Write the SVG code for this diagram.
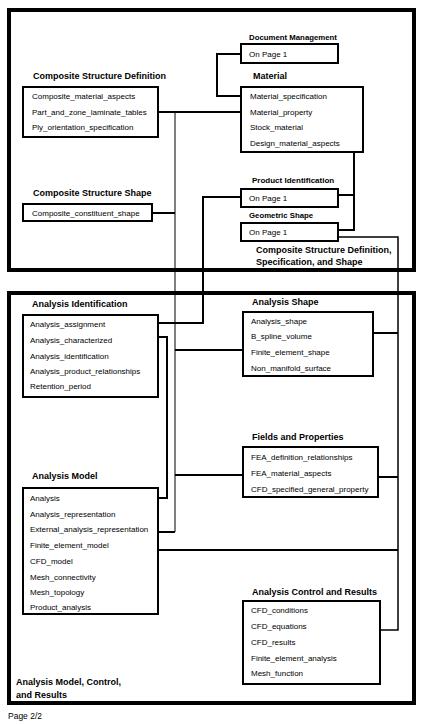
<svg xmlns="http://www.w3.org/2000/svg" width="424" height="724" viewBox="0 0 424 724">
<style>
.frame{fill:none;stroke:#000;stroke-width:4}
.box{fill:#fff;stroke:#000;stroke-width:2}
.c{fill:none;stroke:#000;stroke-width:2}
.t{fill:none;stroke:#000;stroke-width:1}
.m{fill:none;stroke:#000;stroke-width:1.5}
text{font-family:"Liberation Sans",Arial,sans-serif;fill:#000}
.i{font-size:8px}
.h{font-size:9px;font-weight:bold}
.hs{font-size:7.8px;font-weight:bold}
.hm{font-size:8px;font-weight:bold}
</style>
<rect width="424" height="724" fill="#fff"/>
<rect class="frame" x="9" y="10" width="405" height="260"/>
<rect class="frame" x="9" y="293" width="405" height="410"/>
<g id="connectors">
<path class="c" d="M241,54H217V96H241"/>
<path class="c" d="M158,112H241"/>
<path class="t" d="M175,112V532"/>
<path class="c" d="M152,213H175"/>
<path class="c" d="M354,152V230H338M338,195H354"/>
<path class="m" d="M338,237H398V630H380"/>
<path class="c" d="M241,197H203V323H158"/>
<path class="c" d="M158,337H167V498H158"/>
<path class="c" d="M175,350H243"/>
<path class="c" d="M175,475H243"/>
<path class="c" d="M158,532H175"/>
<path class="c" d="M158,550H398"/>
<path class="c" d="M373,333H398"/>
<path class="c" d="M378,477H398"/>
</g>
<g id="csd">
<text class="h" x="33" y="79">Composite Structure Definition</text>
<rect class="box" x="23" y="87" width="135" height="50"/>
<text class="i" x="32" y="99">Composite_material_aspects</text>
<text class="i" x="32" y="115">Part_and_zone_laminate_tables</text>
<text class="i" x="32" y="130">Ply_orientation_specification</text>
</g>
<g id="css">
<text class="h" x="33" y="196">Composite Structure Shape</text>
<rect class="box" x="23" y="204" width="129" height="17"/>
<text class="i" x="32" y="216">Composite_constituent_shape</text>
</g>
<g id="dm">
<text class="hs" x="249" y="40">Document Management</text>
<rect class="box" x="241" y="44" width="97" height="19"/>
<text class="i" x="249" y="57">On Page 1</text>
</g>
<g id="material">
<text class="h" x="253" y="79">Material</text>
<rect class="box" x="241" y="87" width="122" height="65"/>
<text class="i" x="250" y="99">Material_specification</text>
<text class="i" x="250" y="115">Material_property</text>
<text class="i" x="250" y="130">Stock_material</text>
<text class="i" x="250" y="146">Design_material_aspects</text>
</g>
<g id="pi">
<text class="hm" x="252" y="183">Product Identification</text>
<rect class="box" x="241" y="189" width="97" height="18"/>
<text class="i" x="249" y="201">On Page 1</text>
</g>
<g id="gs">
<text class="hs" x="249" y="218">Geometric Shape</text>
<rect class="box" x="241" y="223" width="97" height="18"/>
<text class="i" x="249" y="235">On Page 1</text>
</g>
<text class="h" x="256" y="253">Composite Structure Definition,</text>
<text class="h" x="256" y="265">Specification, and Shape</text>
<g id="ai">
<text class="h" x="32" y="307">Analysis Identification</text>
<rect class="box" x="23" y="315" width="135" height="82"/>
<text class="i" x="30" y="327">Analysis_assignment</text>
<text class="i" x="30" y="343">Analysis_characterized</text>
<text class="i" x="30" y="359">Analysis_identification</text>
<text class="i" x="30" y="374">Analysis_product_relationships</text>
<text class="i" x="30" y="389">Retention_period</text>
</g>
<g id="as">
<text class="h" x="252" y="305">Analysis Shape</text>
<rect class="box" x="243" y="312" width="130" height="64"/>
<text class="i" x="251" y="324">Analysis_shape</text>
<text class="i" x="251" y="339">B_spline_volume</text>
<text class="i" x="251" y="355">Finite_element_shape</text>
<text class="i" x="251" y="371">Non_manifold_surface</text>
</g>
<g id="fp">
<text class="h" x="252" y="440">Fields and Properties</text>
<rect class="box" x="243" y="447" width="135" height="50"/>
<text class="i" x="251" y="460">FEA_definition_relationships</text>
<text class="i" x="251" y="476">FEA_material_aspects</text>
<text class="i" x="251" y="492">CFD_specified_general_property</text>
</g>
<g id="am">
<text class="h" x="32" y="479">Analysis Model</text>
<rect class="box" x="23" y="488" width="135" height="126"/>
<text class="i" x="30" y="501">Analysis</text>
<text class="i" x="30" y="517">Analysis_representation</text>
<text class="i" x="30" y="532">External_analysis_representation</text>
<text class="i" x="30" y="548">Finite_element_model</text>
<text class="i" x="30" y="564">CFD_model</text>
<text class="i" x="30" y="580">Mesh_connectivity</text>
<text class="i" x="30" y="595">Mesh_topology</text>
<text class="i" x="30" y="610">Product_analysis</text>
</g>
<g id="acr">
<text class="h" x="252" y="595">Analysis Control and Results</text>
<rect class="box" x="243" y="601" width="137" height="83"/>
<text class="i" x="251" y="613">CFD_conditions</text>
<text class="i" x="251" y="629">CFD_equations</text>
<text class="i" x="251" y="645">CFD_results</text>
<text class="i" x="251" y="661">Finite_element_analysis</text>
<text class="i" x="251" y="676">Mesh_function</text>
</g>
<text class="h" x="16" y="685">Analysis Model, Control,</text>
<text class="h" x="16" y="698">and Results</text>
<text class="i" x="8" y="719" style="font-size:8.5px">Page 2/2</text>
</svg>
